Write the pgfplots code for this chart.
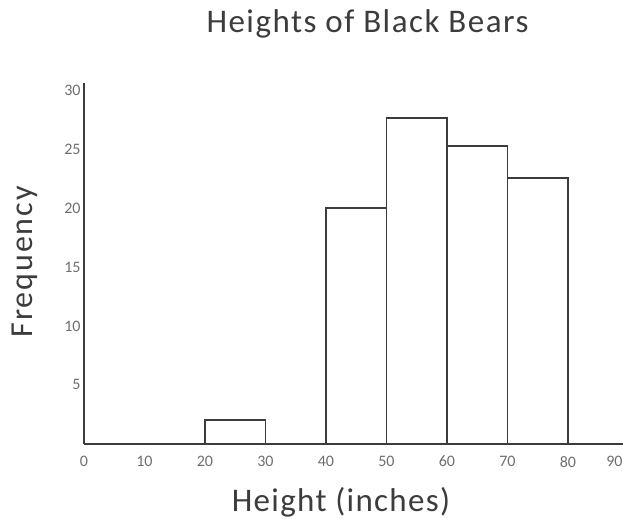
\documentclass[border=0pt]{standalone}
\usepackage{fontspec}
\setmainfont{Carlito}
\usepackage{pgfplots}
\pgfplotsset{compat=1.18}

\definecolor{inkgray}{RGB}{60,60,60}
\definecolor{ticktext}{RGB}{110,110,110}

\begin{document}
\begin{tikzpicture}
    \begin{axis}[
        anchor=south west, at={(0,0)},
        scale only axis,
        width=272.25pt, height=180.1pt,
        xmin=0, xmax=90, ymin=0, ymax=30.6,
        axis lines*=left,
        axis line style={inkgray, line width=1pt},
        xtick={0,10,...,80},
        extra x ticks={90},
        extra x tick style={xticklabel style={xshift=-7pt}},
        ytick={5,10,...,30},
        major tick length=0pt,
        tick label style={font=\fontsize{8}{9}\selectfont, text=ticktext},
        xticklabel style={anchor=north, inner sep=0pt, yshift=-6pt},
        yticklabel style={anchor=east, inner sep=0pt, xshift=-1.5pt},
        /pgf/number format/assume math mode=true,
        clip=false,
    ]
        % histogram: value at left edge of each 10-inch class
        \addplot[ybar interval, draw=inkgray, fill=white, line width=0.9pt]
            coordinates {(20,2) (30,0) (40,20) (50,27.7) (60,25.3) (70,22.6) (80,0)};
    \end{axis}
    \node[anchor=base, text=inkgray, font=\fontsize{16.5}{19}\selectfont\addfontfeature{LetterSpace=4.5}] at (141.75pt,205.35pt) {Heights of Black Bears};
    \node[anchor=base, text=inkgray, font=\fontsize{16.5}{19}\selectfont\addfontfeature{LetterSpace=4}] at (128.5pt,-34pt) {Height (inches)};
    \node[anchor=base, rotate=90, text=inkgray, font=\fontsize{16}{19}\selectfont\addfontfeature{LetterSpace=6}] at (-25.5pt,90.85pt) {Frequency};
    \pgfresetboundingbox
    \path[use as bounding box] (-42pt,-37.65pt) rectangle (269.5pt,221.85pt);
\end{tikzpicture}
\end{document}
